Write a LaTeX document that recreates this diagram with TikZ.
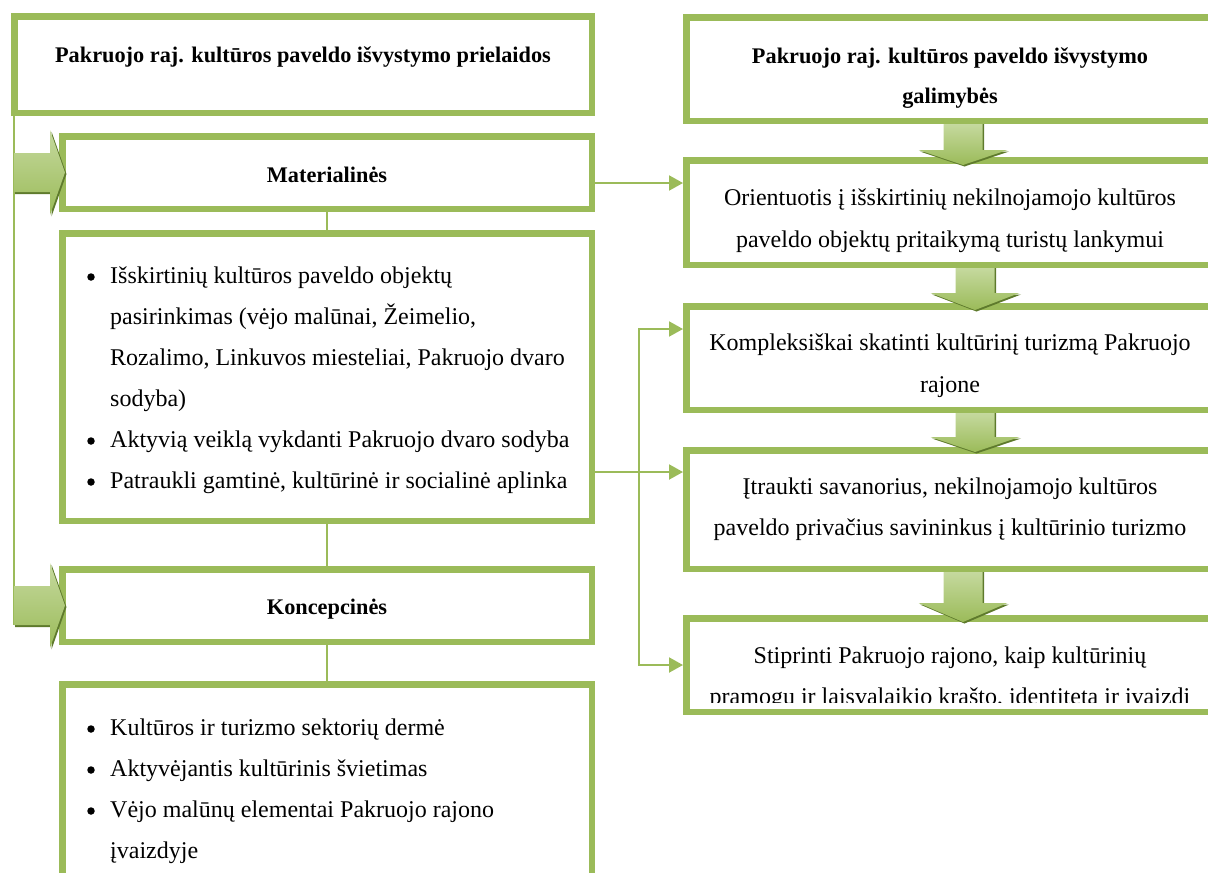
\documentclass[tikz,border=0pt]{standalone}
\usepackage{fontspec}
\setmainfont{Liberation Serif}
\usetikzlibrary{arrows.meta}
\definecolor{grn}{HTML}{9BBB59}
\definecolor{grnlt}{HTML}{C5D99E}
\definecolor{grndk}{HTML}{5E7A2C}
\newcommand\myRArrow[1]{%
  \fill[grndk] (15,#1-18) -- (51.5,#1-18) -- (51.5,#1-41) -- (66.5,#1+1.5) -- (51.5,#1+44) -- (51.5,#1+21.5) -- (15,#1+21.5) -- cycle;
  \shade[top color=grnlt, bottom color=grn] (14,#1-19.5) -- (50,#1-19.5) -- (50,#1-42.5) -- (65,#1) -- (50,#1+42.5) -- (50,#1+19.5) -- (14,#1+19.5) -- cycle;}
\newcommand\myDArrow[4]{%
  \fill[grndk] (#1-18,#2) -- (#1+21,#2) -- (#1+21,#3+1.5) -- (#1+46,#3+1.5) -- (#1+1.5,#4+1.5) -- (#1-43,#3+1.5) -- (#1-18,#3+1.5) -- cycle;
  \shade[top color=grnlt, bottom color=grn] (#1-19.5,#2) -- (#1+19.5,#2) -- (#1+19.5,#3) -- (#1+44.5,#3) -- (#1,#4) -- (#1-44.5,#3) -- (#1-19.5,#3) -- cycle;}
\tikzset{
  box/.style={draw=grn, line width=6.5pt, fill=white, inner sep=0pt},
  conn/.style={draw=grn, line width=2pt},
  tip/.style={-{Triangle[length=14pt,width=15pt]}},
  txt/.style={font=\fontsize{24}{41}\selectfont, inner sep=0pt, anchor=base},
  txtl/.style={txt, anchor=base west},
  hd/.style={font=\bfseries\fontsize{22.3}{40}\selectfont, inner sep=0pt, anchor=base},
  bul/.style={circle, fill=black, inner sep=0pt, minimum size=7.5pt},
}
\begin{document}
\begin{tikzpicture}[x=1pt,y=-1pt]
\useasboundingbox (0,0) rectangle (1208,873);
\clip (0,0) rectangle (1208,873);
% left column boxes
\node[box, minimum width=577.5pt, minimum height=96.5pt] (A) at (303,64.5) {};
\node[box, minimum width=529.5pt, minimum height=72.5pt] (M) at (327,172.5) {};
\node[box, minimum width=529.5pt, minimum height=287.5pt] (B1) at (327,377) {};
\node[box, minimum width=529.5pt, minimum height=72.5pt] (K) at (327,605.5) {};
\node[box, minimum width=529.5pt, minimum height=212.5pt] (B2) at (327,790.5) {};
% right column boxes
\node[box, minimum width=527.5pt, minimum height=103.5pt] (R1) at (950,69) {};
\node[box, minimum width=527.5pt, minimum height=104.5pt] (R2) at (950,212.5) {};
\node[box, minimum width=527.5pt, minimum height=103.5pt] (R3) at (950,358) {};
\node[box, minimum width=527.5pt, minimum height=118.5pt] (R4) at (950,509.5) {};
\node[box, minimum width=527.5pt, minimum height=93.5pt] (R5) at (950,665) {};
% texts left
\node[hd] (tA) at (303,62) {Pakruojo raj. kultūros paveldo išvystymo prielaidos};
\node[hd] (tM) at (327,182) {Materialinės};
\node[hd] (tK) at (327,614) {Koncepcinės};
\node[bul] (b11) at (91,277) {};
\node[txtl] (t11) at (110,283) {Išskirtinių kultūros paveldo objektų};
\node[txtl] (t12) at (110,324) {pasirinkimas (vėjo malūnai, Žeimelio,};
\node[txtl] (t13) at (110,365) {Rozalimo, Linkuvos miesteliai, Pakruojo dvaro};
\node[txtl] (t14) at (110,406) {sodyba)};
\node[bul] (b12) at (91,441) {};
\node[txtl] (t15) at (110,447) {Aktyvią veiklą vykdanti Pakruojo dvaro sodyba};
\node[bul] (b13) at (91,482) {};
\node[txtl] (t16) at (110,488) {Patraukli gamtinė, kultūrinė ir socialinė aplinka};
\node[bul] (b21) at (91,729) {};
\node[txtl] (t21) at (110,735) {Kultūros ir turizmo sektorių dermė};
\node[bul] (b22) at (91,770) {};
\node[txtl] (t22) at (110,776) {Aktyvėjantis kultūrinis švietimas};
\node[bul] (b23) at (91,811) {};
\node[txtl] (t23) at (110,817) {Vėjo malūnų elementai Pakruojo rajono};
\node[txtl] (t24) at (110,858) {įvaizdyje};
% texts right
\node[hd] (tR1a) at (950,63) {Pakruojo raj. kultūros paveldo išvystymo};
\node[hd] (tR1b) at (950,103) {galimybės};
\node[txt] (tR2a) at (950,205) {Orientuotis į išskirtinių nekilnojamojo kultūros};
\node[txt] (tR2b) at (950,247) {paveldo objektų pritaikymą turistų lankymui};
\node[txt] (tR3a) at (950,350) {Kompleksiškai skatinti kultūrinį turizmą Pakruojo};
\node[txt] (tR3b) at (950,392) {rajone};
\node[txt] (tR4a) at (950,494) {Įtraukti savanorius, nekilnojamojo kultūros};
\node[txt] (tR4b) at (950,535) {paveldo privačius savininkus į kultūrinio turizmo};
\node[txt] (tR5a) at (950,663) {Stiprinti Pakruojo rajono, kaip kultūrinių};
\begin{scope}
\clip (683,680) rectangle (1217,702);
\node[txt] (tR5b) at (950,704) {pramogų ir laisvalaikio krašto, identitetą ir įvaizdį};
\end{scope}
% connectors
\draw[conn] (M.south) -- (B1.north);
\draw[conn] (B1.south) -- (K.north);
\draw[conn] (K.south) -- (B2.north);
\coordinate (lt) at (14,116);
\coordinate (lb) at (14,625);
\draw[conn] (lt) -- (lb);
\coordinate (c1) at (595,183);
\draw[conn, tip] (c1) -- (c1 -| R2.west);
\coordinate (j) at (639,472);
\coordinate (jt) at (639,329);
\coordinate (jb) at (639,665);
\draw[conn] (j -| B1.east) -- (j);
\draw[conn, tip] (j) -- (j -| R4.west);
\draw[conn, {Triangle[length=14pt,width=15pt]}-{Triangle[length=14pt,width=15pt]}] (jt -| R3.west) -- (jt) -- (jb) -- (jb -| R5.west);
% block arrows
\myRArrow{172.5}
\myRArrow{605.5}
\myDArrow{963}{124}{150}{165}
\myDArrow{975}{268}{293}{310}
\myDArrow{975}{413}{437}{452}
\myDArrow{963}{572}{603}{622}
\end{tikzpicture}
\end{document}
